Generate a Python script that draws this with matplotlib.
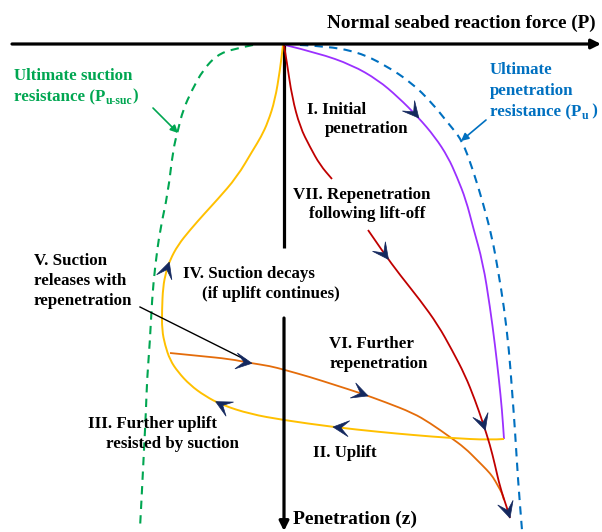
import numpy as np
import matplotlib
matplotlib.use("Agg")
import matplotlib.pyplot as plt
from matplotlib.patches import Polygon, PathPatch
from matplotlib.path import Path

# ---- data (P = horizontal position, z = vertical position, picture units) ----
purple_P = [285, 318, 352, 378, 398, 418, 435, 448, 457, 466, 473, 483, 490, 495, 499, 502, 504]
purple_z = [45, 53, 65, 80, 97, 117, 137, 157, 177, 200, 227, 263, 307, 345, 380, 410, 439]

yellow_P = [504, 490, 450, 413, 380, 333, 283, 250, 222, 205, 190, 178, 170, 165, 162, 162, 163, 166, 170,
            178, 190, 205, 217, 237, 253, 261, 268, 275, 280, 283]
yellow_z = [439, 440, 438, 435, 432, 427, 420, 414, 405, 396, 385, 372, 360, 345, 330, 310, 287, 272, 260,
            245, 230, 213, 200, 177, 150, 137, 122, 100, 70, 45]

red1_P = [284, 287, 292, 300, 310, 320, 332]
red1_z = [45, 63, 97, 127, 147, 165, 179]
red2_P = [368, 383, 400, 420, 438, 452, 465, 475, 483, 490, 495, 500, 507, 510]
red2_z = [230, 252, 275, 300, 325, 350, 375, 400, 423, 445, 465, 487, 508, 518]

orange_P = [170, 200, 230, 250, 270, 285, 310, 335, 360, 385, 413, 430, 450, 465, 477, 487, 493, 498, 502, 504]
orange_z = [353, 356, 359, 363, 366, 370, 377, 385, 393, 402, 413, 423, 437, 448, 460, 470, 477, 486, 493, 500]

green_P = [253, 233, 217, 203, 192, 183, 178, 173, 168, 160, 155, 152, 150, 147, 146, 144, 142, 140]
green_z = [45, 49, 55, 70, 90, 110, 130, 150, 193, 230, 267, 300, 340, 380, 410, 450, 490, 528]

blue_P = [300, 325, 358, 385, 412, 432, 448, 462, 473, 483, 492, 498, 504, 509, 512, 515, 518, 522]
blue_z = [45, 46, 52, 65, 83, 103, 123, 140, 170, 203, 237, 270, 307, 350, 390, 430, 480, 530]

# arrowhead tip locations on curves
purple_tips = [(420, 117)]
yellow_tips = [(333, 427), (216, 401), (169, 262)]
red_tips = [(389, 259), (486, 430), (510, 519)]
orange_tips = [(252, 363), (368, 396)]

C_GREEN = '#00a651'
C_BLUE = '#0070c0'
C_PURPLE = '#9b30ff'
C_RED = '#c00000'
C_YELLOW = '#ffc000'
C_ORANGE = '#e46c0a'
C_NAVY = '#14285e'

plt.rcParams['font.family'] = ['Liberation Serif', 'DejaVu Serif']
plt.rcParams['font.weight'] = 'bold'

fig = plt.figure(figsize=(6.02, 5.32), dpi=100)
ax = fig.add_axes([0, 0, 1, 1])
ax.set_xlim(0, 602)
ax.set_ylim(532, 0)
ax.axis('off')


def smooth(xs, ys, color, lw, ls='-', z=2):
    pts = np.column_stack([xs, ys]).astype(float)
    verts = [pts[0]]
    codes = [Path.MOVETO]
    for i in range(1, len(pts) - 1):
        verts += [pts[i], (pts[i] + pts[i + 1]) / 2]
        codes += [Path.CURVE3, Path.CURVE3]
    verts.append(pts[-1])
    codes.append(Path.LINETO)
    ax.add_patch(PathPatch(Path(verts, codes), fill=False, edgecolor=color, lw=lw,
                           linestyle=ls, capstyle='butt', zorder=z))


# axes arrows
ax.annotate('', xy=(601, 44), xytext=(12, 44),
            arrowprops=dict(arrowstyle='-|>', lw=2.3, color='k', mutation_scale=14,
                            shrinkA=0, shrinkB=0))
ax.plot([284, 284], [44, 248], color='k', lw=2.3, solid_capstyle='butt')
ax.annotate('', xy=(284, 531), xytext=(284, 318),
            arrowprops=dict(arrowstyle='-|>', lw=2.3, color='k', mutation_scale=14,
                            shrinkA=0, shrinkB=0))

# envelopes
smooth(green_P, green_z, C_GREEN, 1.5, ls=(0, (4, 3)))
smooth(blue_P, blue_z, C_BLUE, 1.5, ls=(0, (4, 3)))

# response curves
smooth(purple_P, purple_z, C_PURPLE, 1.3)
smooth(orange_P, orange_z, C_ORANGE, 1.3)
smooth(yellow_P, yellow_z, C_YELLOW, 1.4)
smooth(red1_P, red1_z, C_RED, 1.3)
smooth(red2_P, red2_z, C_RED, 1.3)

# annotation arrows
ax.annotate('', xy=(178, 133), xytext=(153, 108),
            arrowprops=dict(arrowstyle='-|>', lw=1.2, color=C_GREEN, mutation_scale=11,
                            shrinkA=0, shrinkB=0))
ax.annotate('', xy=(461, 141), xytext=(486, 120),
            arrowprops=dict(arrowstyle='-|>', lw=1.2, color=C_BLUE, mutation_scale=11,
                            shrinkA=0, shrinkB=0))
ax.plot([140, 246], [307, 360], color='k', lw=1.0)


def head(xs, ys, tip, L=16.0, W=8.0):
    xs = np.asarray(xs, float)
    ys = np.asarray(ys, float)
    p = np.array(tip, float)
    best = None
    for i in range(len(xs) - 1):
        a = np.array([xs[i], ys[i]])
        b = np.array([xs[i + 1], ys[i + 1]])
        ab = b - a
        t = np.clip(np.dot(p - a, ab) / np.dot(ab, ab), 0, 1)
        q = a + t * ab
        d = np.linalg.norm(p - q)
        if best is None or d < best[0]:
            best = (d, q, ab / np.linalg.norm(ab))
    _, q, u = best
    n = np.array([-u[1], u[0]])
    pts = [q, q - L * u + W * n, q - 0.5 * L * u, q - L * u - W * n]
    ax.add_patch(Polygon(pts, closed=True, facecolor=C_NAVY, edgecolor=C_NAVY, lw=0.5, zorder=5))


for t in purple_tips:
    head(purple_P, purple_z, t)
for t in yellow_tips:
    head(yellow_P, yellow_z, t)
for t in red_tips:
    head(red2_P, red2_z, t)
for t in orange_tips:
    head(orange_P, orange_z, t)

FS = 12.2
kw = dict(fontsize=FS, fontweight='bold', va='baseline', ha='left')

ax.text(327, 28, 'Normal seabed reaction force (P)', fontsize=13.8, fontweight='bold', va='baseline')
ax.text(293, 524, 'Penetration (z)', fontsize=14.0, fontweight='bold', va='baseline')

ax.text(307, 114, 'I. Initial', **kw)
ax.text(325, 133, 'penetration', **kw)
ax.text(293, 199, 'VII. Repenetration', **kw)
ax.text(309, 218, 'following lift-off', **kw)
ax.text(183, 278, 'IV. Suction decays', **kw)
ax.text(202, 298, '(if uplift continues)', **kw)
ax.text(34, 265, 'V. Suction', **kw)
ax.text(34, 285, 'releases with', **kw)
ax.text(34, 305, 'repenetration', **kw)
ax.text(329, 348, 'VI. Further', **kw)
ax.text(329, 368, 'repenetration', **kw)
ax.text(88, 428, 'III. Further uplift', **kw)
ax.text(106, 448, 'resisted by suction', **kw)
ax.text(313, 457, 'II. Uplift', **kw)

ax.text(14, 80, 'Ultimate suction', color=C_GREEN, **kw)
g2 = ax.text(14, 100, 'resistance (P', color=C_GREEN, **kw)
ax.text(490, 74, 'Ultimate', color=C_BLUE, **kw)
ax.text(490, 95, 'penetration', color=C_BLUE, **kw)
b3 = ax.text(490, 115, 'resistance (P', color=C_BLUE, **kw)

fig.canvas.draw()
r = fig.canvas.get_renderer()
inv = ax.transData.inverted()


def right_edge(t):
    bb = t.get_window_extent(r)
    return inv.transform((bb.x1, bb.y0))[0]


x = right_edge(g2)
s = ax.text(x, 104, 'u-suc', color=C_GREEN, fontsize=8.5, fontweight='bold', va='baseline')
fig.canvas.draw()
x = right_edge(s)
ax.text(x, 100, ')', color=C_GREEN, **kw)

x = right_edge(b3)
s = ax.text(x, 119, 'u', color=C_BLUE, fontsize=8.5, fontweight='bold', va='baseline')
fig.canvas.draw()
x = right_edge(s)
ax.text(x, 115, ' )', color=C_BLUE, **kw)

fig.savefig('out.png', dpi=100)
